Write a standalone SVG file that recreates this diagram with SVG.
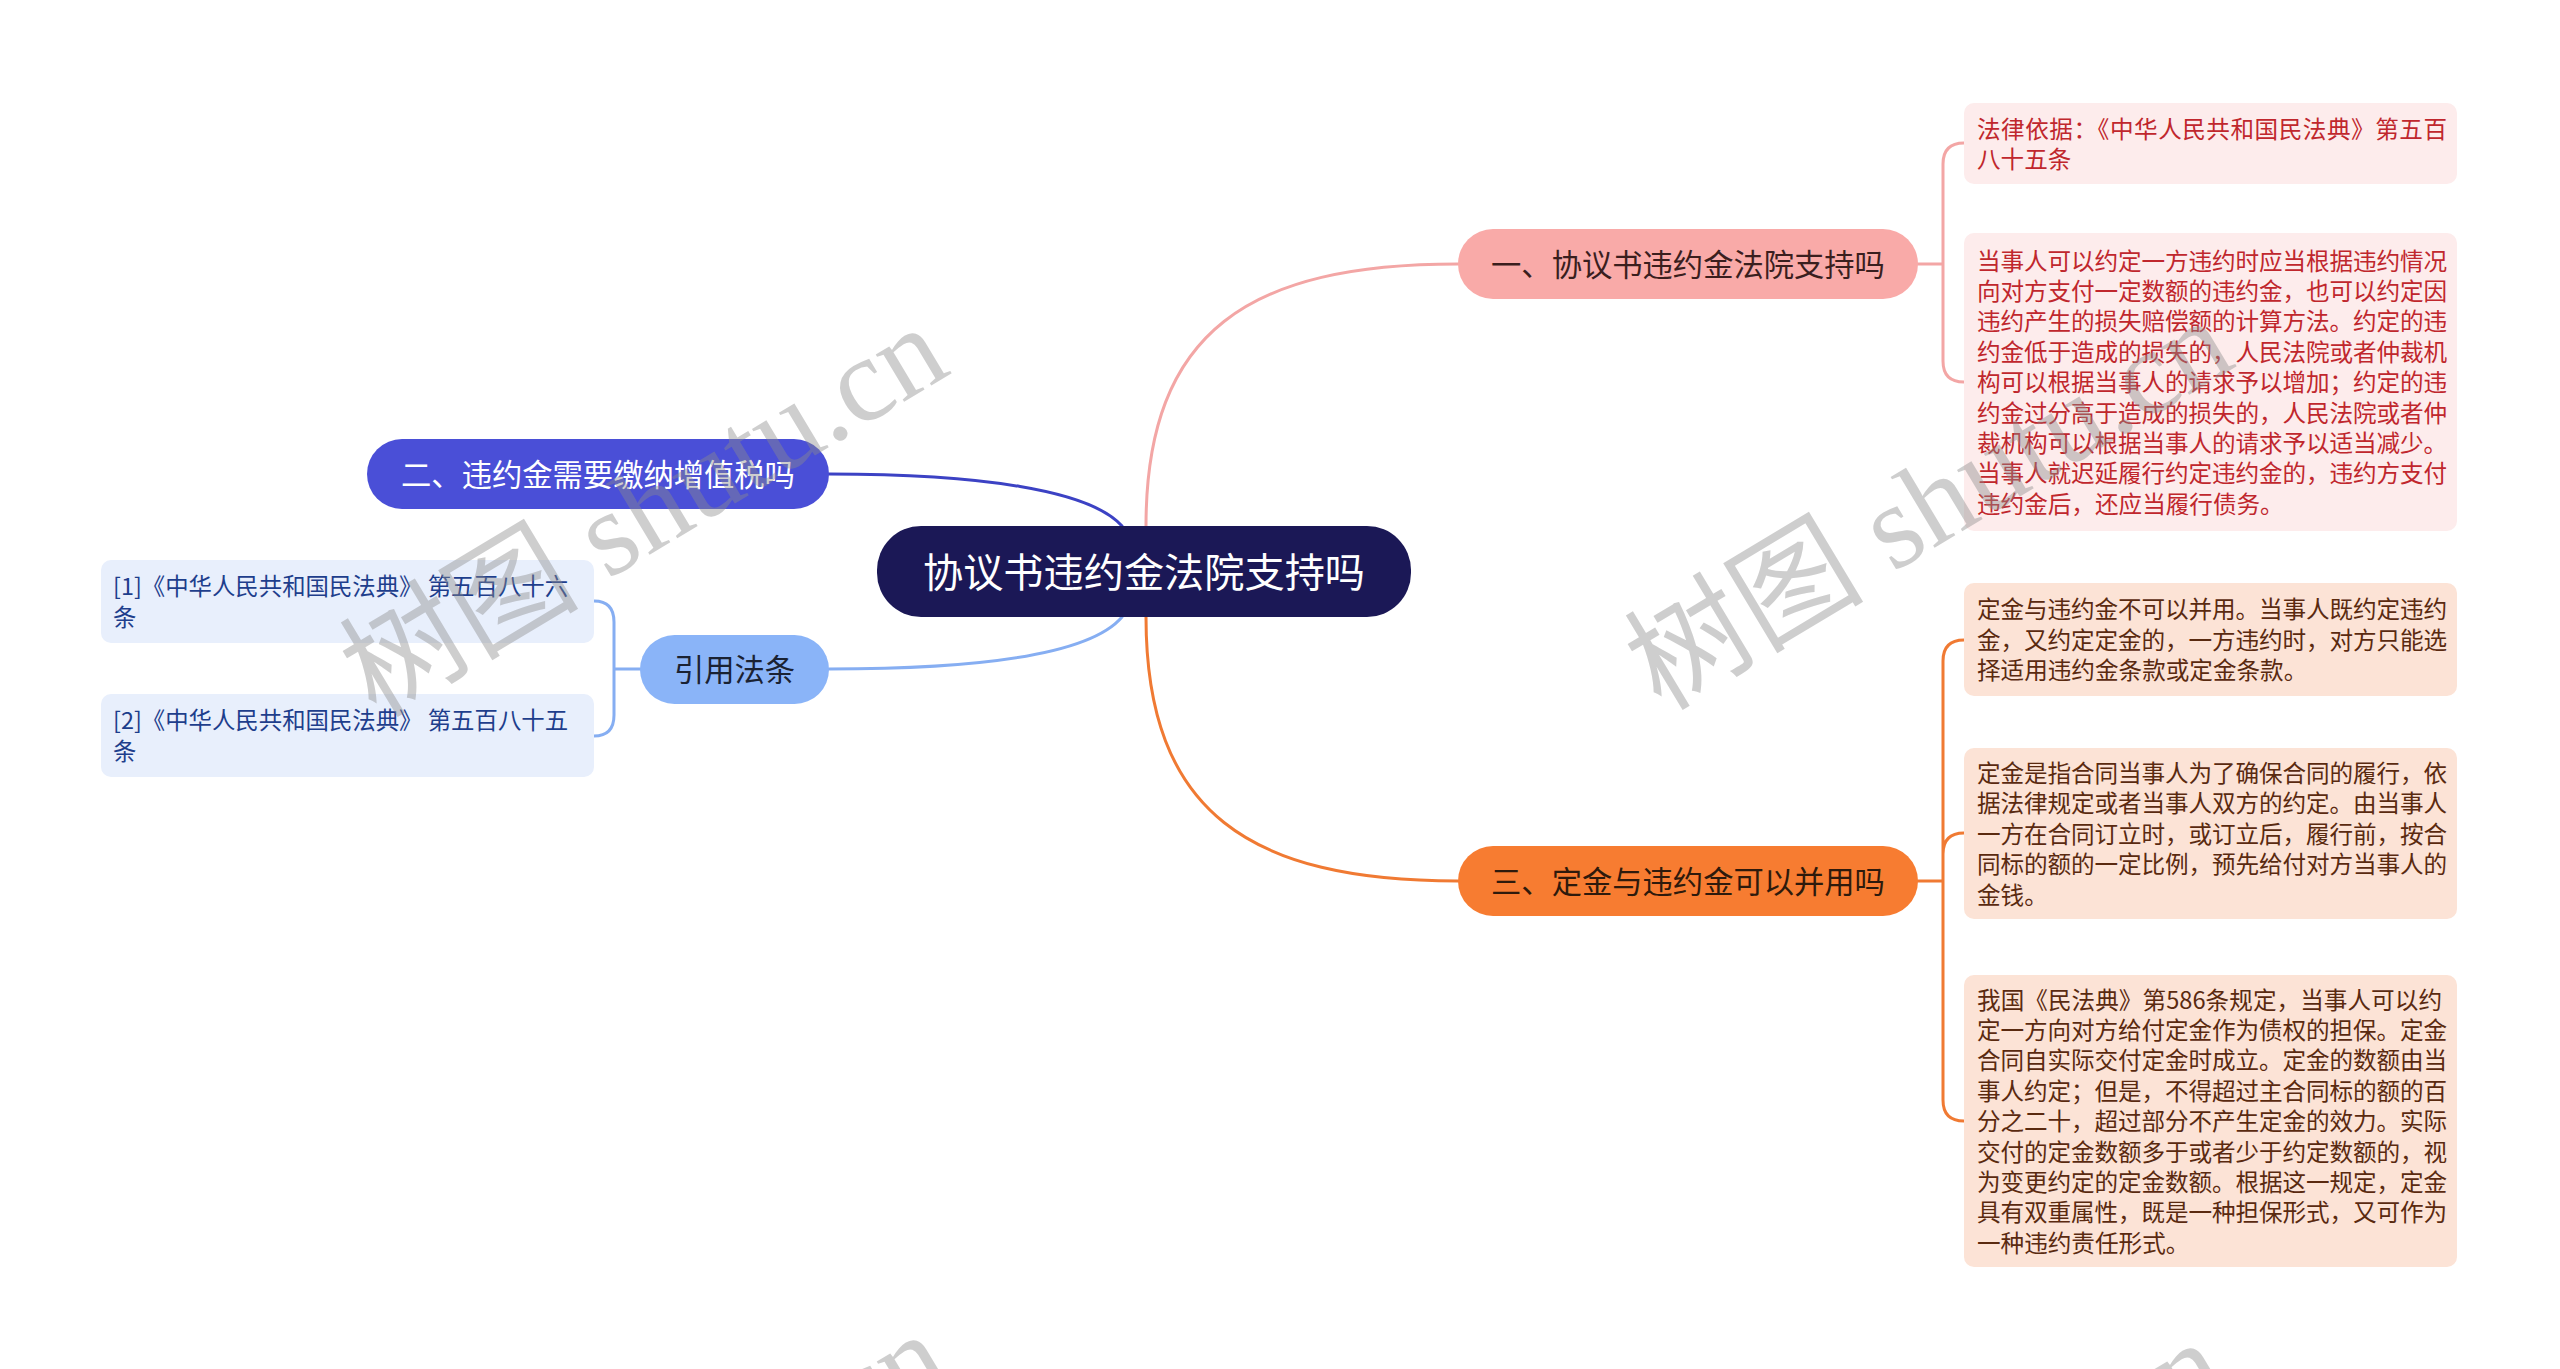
<svg xmlns="http://www.w3.org/2000/svg" width="2560" height="1369" viewBox="0 0 2560 1369">
<style>
text{font-family:"Noto Sans CJK SC","Noto Sans",sans-serif}
.conn{fill:none;stroke-width:3;stroke-linecap:round}
.leafR{font-size:23.6px;fill:#C0272D}
.leafO{font-size:23.6px;fill:#5A2A10}
.leafB{font-size:23.4px;fill:#1E3E8C}
.main{font-size:30.3px;text-anchor:middle}
.wm{font-family:"Liberation Serif","Noto Sans CJK SC",serif;font-size:120px;fill:#8c8c8c;opacity:0.42}
</style>
<rect width="2560" height="1369" fill="#ffffff"/>
<g id="connectors">
<path class="conn" stroke="#F3A6A5" d="M1146,526 C1146,330 1250,264 1458,264"/>
<path class="conn" stroke="#F07A33" d="M1146,617 C1146,813 1250,881 1458,881"/>
<path class="conn" stroke="#3C42C4" d="M829,474 C980,474 1090,490 1122,526"/>
<path class="conn" stroke="#86AEF2" d="M829,669 C980,669 1090,655 1122,617"/>
<path class="conn" stroke="#F3A6A5" d="M1918,264 H1943 M1943,264 V164 Q1943,143 1964,143 M1943,264 V361 Q1943,382 1964,382"/>
<path class="conn" stroke="#F07A33" d="M1918,881 H1943 M1943,881 V661 Q1943,640 1964,640 M1943,881 V854 Q1943,833 1964,833 M1943,881 V1100 Q1943,1121 1964,1121"/>
<path class="conn" stroke="#86AEF2" d="M640,669 H614 M614,669 V622 Q614,601 594,601 M614,669 V715 Q614,736 594,736"/>
</g>
<g id="root">
<rect x="877" y="526" width="534" height="91" rx="44" fill="#1B1856"/>
<text x="1144" y="586.8" font-size="40.2" fill="#ffffff" text-anchor="middle">协议书违约金法院支持吗</text>
</g>
<g id="n1">
<rect x="1458" y="229" width="460" height="70" rx="35" fill="#F9AAA8"/>
<text class="main" x="1688" y="275.5" fill="#3A1E1E">一、协议书违约金法院支持吗</text>
</g>
<g id="n3">
<rect x="1458" y="846" width="460" height="70" rx="35" fill="#F77C31"/>
<text class="main" x="1688" y="892.5" fill="#2E1A0C">三、定金与违约金可以并用吗</text>
</g>
<g id="n2">
<rect x="367" y="439" width="462" height="70" rx="35" fill="#4A4FD7"/>
<text class="main" x="598" y="485.5" fill="#ffffff">二、违约金需要缴纳增值税吗</text>
</g>
<g id="nref">
<rect x="640" y="635" width="189" height="69" rx="34.5" fill="#8AB4F8"/>
<text class="main" x="734.5" y="680.5" fill="#1A2233">引用法条</text>
</g>
<g id="leaf1a">
<rect x="1964" y="103" width="493" height="81" rx="10" fill="#FDECEC"/>
<text class="leafR"><tspan x="1977" y="137.5" textLength="470" lengthAdjust="spacing">法律依据：《中华人民共和国民法典》第五百</tspan><tspan x="1977" y="167.9">八十五条</tspan></text>
</g>
<g id="leaf1b">
<rect x="1964" y="233" width="493" height="298" rx="10" fill="#FDECEC"/>
<text class="leafR">
<tspan x="1977" y="269.6" textLength="470" lengthAdjust="spacing">当事人可以约定一方违约时应当根据违约情况</tspan>
<tspan x="1977" y="300" textLength="470" lengthAdjust="spacing">向对方支付一定数额的违约金，也可以约定因</tspan>
<tspan x="1977" y="330.4" textLength="470" lengthAdjust="spacing">违约产生的损失赔偿额的计算方法。约定的违</tspan>
<tspan x="1977" y="360.8" textLength="470" lengthAdjust="spacing">约金低于造成的损失的，人民法院或者仲裁机</tspan>
<tspan x="1977" y="391.2" textLength="470" lengthAdjust="spacing">构可以根据当事人的请求予以增加；约定的违</tspan>
<tspan x="1977" y="421.6" textLength="470" lengthAdjust="spacing">约金过分高于造成的损失的，人民法院或者仲</tspan>
<tspan x="1977" y="452" textLength="470" lengthAdjust="spacing">裁机构可以根据当事人的请求予以适当减少。</tspan>
<tspan x="1977" y="482.4" textLength="470" lengthAdjust="spacing">当事人就迟延履行约定违约金的，违约方支付</tspan>
<tspan x="1977" y="512.8">违约金后，还应当履行债务。</tspan>
</text>
</g>
<g id="leaf3a">
<rect x="1964" y="583" width="493" height="113" rx="10" fill="#FCE3D6"/>
<text class="leafO">
<tspan x="1977" y="618.3" textLength="470" lengthAdjust="spacing">定金与违约金不可以并用。当事人既约定违约</tspan>
<tspan x="1977" y="648.7" textLength="470" lengthAdjust="spacing">金，又约定定金的，一方违约时，对方只能选</tspan>
<tspan x="1977" y="679.1">择适用违约金条款或定金条款。</tspan>
</text>
</g>
<g id="leaf3b">
<rect x="1964" y="748" width="493" height="171" rx="10" fill="#FCE3D6"/>
<text class="leafO">
<tspan x="1977" y="781.9" textLength="470" lengthAdjust="spacing">定金是指合同当事人为了确保合同的履行，依</tspan>
<tspan x="1977" y="812.3" textLength="470" lengthAdjust="spacing">据法律规定或者当事人双方的约定。由当事人</tspan>
<tspan x="1977" y="842.7" textLength="470" lengthAdjust="spacing">一方在合同订立时，或订立后，履行前，按合</tspan>
<tspan x="1977" y="873.1" textLength="470" lengthAdjust="spacing">同标的额的一定比例，预先给付对方当事人的</tspan>
<tspan x="1977" y="903.5">金钱。</tspan>
</text>
</g>
<g id="leaf3c">
<rect x="1964" y="975" width="493" height="292" rx="10" fill="#FCE3D6"/>
<text class="leafO">
<tspan x="1977" y="1008.6" textLength="465" lengthAdjust="spacing">我国《民法典》第586条规定，当事人可以约</tspan>
<tspan x="1977" y="1039" textLength="470" lengthAdjust="spacing">定一方向对方给付定金作为债权的担保。定金</tspan>
<tspan x="1977" y="1069.4" textLength="470" lengthAdjust="spacing">合同自实际交付定金时成立。定金的数额由当</tspan>
<tspan x="1977" y="1099.8" textLength="470" lengthAdjust="spacing">事人约定；但是，不得超过主合同标的额的百</tspan>
<tspan x="1977" y="1130.2" textLength="470" lengthAdjust="spacing">分之二十，超过部分不产生定金的效力。实际</tspan>
<tspan x="1977" y="1160.6" textLength="470" lengthAdjust="spacing">交付的定金数额多于或者少于约定数额的，视</tspan>
<tspan x="1977" y="1191" textLength="470" lengthAdjust="spacing">为变更约定的定金数额。根据这一规定，定金</tspan>
<tspan x="1977" y="1221.4" textLength="470" lengthAdjust="spacing">具有双重属性，既是一种担保形式，又可作为</tspan>
<tspan x="1977" y="1251.8">一种违约责任形式。</tspan>
</text>
</g>
<g id="ref1">
<rect x="101" y="560" width="493" height="83" rx="10" fill="#E8EFFC"/>
<text class="leafB"><tspan x="113" y="595.2">[1]《中华人民共和国民法典》 第五百八十六</tspan><tspan x="113" y="625.6">条</tspan></text>
</g>
<g id="ref2">
<rect x="101" y="694" width="493" height="83" rx="10" fill="#E8EFFC"/>
<text class="leafB"><tspan x="113" y="729.2">[2]《中华人民共和国民法典》 第五百八十五</tspan><tspan x="113" y="759.6">条</tspan></text>
</g>
<g id="watermarks">
<text class="wm" transform="translate(376,719) rotate(-31)">树图 shutu.cn</text>
<text class="wm" transform="translate(1661,712) rotate(-31)">树图 shutu.cn</text>
<text class="wm" transform="translate(377,1726) rotate(-31)">树图 shutu.cn</text>
<text class="wm" transform="translate(1654,1734) rotate(-31)">树图 shutu.cn</text>
</g>
</svg>
